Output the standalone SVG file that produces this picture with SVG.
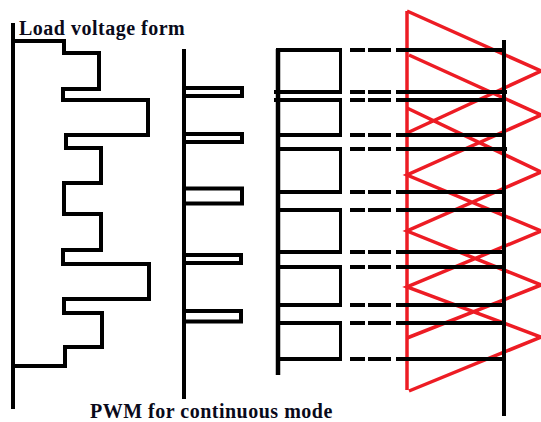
<svg xmlns="http://www.w3.org/2000/svg" width="541" height="422" viewBox="0 0 541 422">
<style>
.k{fill:none;stroke:#000;stroke-width:4}
.t{stroke-width:3}
.a{stroke-width:4.5}
.r{fill:none;stroke:#ed1c24;stroke-width:3.500}
.lb{font-family:"Liberation Serif",serif;font-weight:bold;font-size:20px;letter-spacing:.5px;fill:#0a0a1a}
</style>
<rect width="541" height="422" fill="#fff"/>
<g id="load-voltage">
<path class="k" d="M13 23V409"/>
<path class="k" d="M13 41H64V53H99V89H63V100H148V135H66V148H101V183H64V214H101V250H63V264H149V299H64V313H102V347H65V366H13"/>
<text class="lb" x="19" y="35">Load voltage form</text>
</g>
<g id="pwm">
<path class="k" d="M184 49V399"/>
<path class="k" d="M184 88H242V96H184M184 134H242V142H184M184 188.500H242V203.500H184M184 255H241V263H184M184 311H241V321.500H184"/>
<text class="lb" x="90" y="417.500">PWM for continuous mode</text>
</g>
<g id="triangle-carrier">
<path class="r a" d="M407 11V390"/>
<path class="r" d="M407 11L541 71L407 133M409 55L541 115L407 175L541 231L407 287L541 337L409 391M407 108L541 172L407 231L541 285L407 338"/>
</g>
<g id="connectors">
<path class="k a" d="M278 49V375"/>
<path class="k t" d="M340.500 50V92M340.500 100V135M340.500 149V192M340.500 210V252M340.500 267V305M340.500 323V359"/>
<path class="k" d="M276 50H342M274 92H342M274 100H342M276 135H342M276 149H342M276 192H342M276 210H342M276 252H342M276 267H342M276 305H342M276 323H342M276 359H342"/>
<path class="k" d="M350 50H365M368 50H391M396 50H504M350 92H365M368 92H391M396 92H507M350 100H365M368 100H391M396 100H504M350 135H365M368 135H391M396 135H504M350 149H365M368 149H391M396 149H507M350 192H365M368 192H391M396 192H504M350 210H365M368 210H391M396 210H504M350 252H365M368 252H391M396 252H504M350 267H365M368 267H391M396 267H504M350 305H365M368 305H391M396 305H504M350 323H365M368 323H391M396 323H504M350 359H365M368 359H391M396 359H504"/>
<path class="k" d="M504 40V416"/>
</g>
</svg>
